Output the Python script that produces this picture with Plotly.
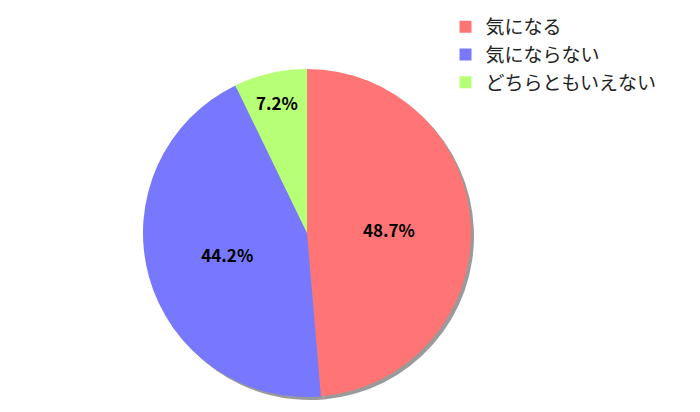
import plotly.graph_objects as go

labels = ["気になる", "気にならない", "どちらともいえない"]
values = [48.7, 44.2, 7.2]
text_labels = ["<b>48.7%</b>", "<b>44.2%</b>", "<b>7.2%</b>"]
colors = ["#FF7575", "#7878FF", "#B8FF78"]

W, H = 700, 412
cx, cy, r = 299, 225, 164

def dom(dx, dy):
    return dict(x=[(cx - r + dx) / W, (cx + r + dx) / W],
                y=[(H - (cy + r + dy)) / H, (H - (cy - r + dy)) / H])

fig = go.Figure()
# shadow
fig.add_trace(go.Pie(
    labels=labels, values=values, sort=False, direction="clockwise",
    domain=dom(3, 3), marker=dict(colors=["#9a9a9a"] * 3),
    textinfo="none", hoverinfo="skip", showlegend=False,
))
fig.add_trace(go.Pie(
    labels=labels, values=values, sort=False, direction="clockwise",
    domain=dom(0, 0), marker=dict(colors=colors),
    text=text_labels, textinfo="text", textposition="inside",
    insidetextorientation="horizontal",
    textfont=dict(size=17, color="black", family="Noto Sans CJK JP"),
))
fig.update_layout(
    width=W, height=H, margin=dict(l=0, r=0, t=0, b=0),
    paper_bgcolor="white", plot_bgcolor="white",
    font=dict(family="Noto Sans CJK JP", size=15, color="#222"),
    legend=dict(x=0.625, y=1.0, xanchor="left", yanchor="top",
                font=dict(size=19), itemsizing="constant"),
)
fig.write_html("out.html")
